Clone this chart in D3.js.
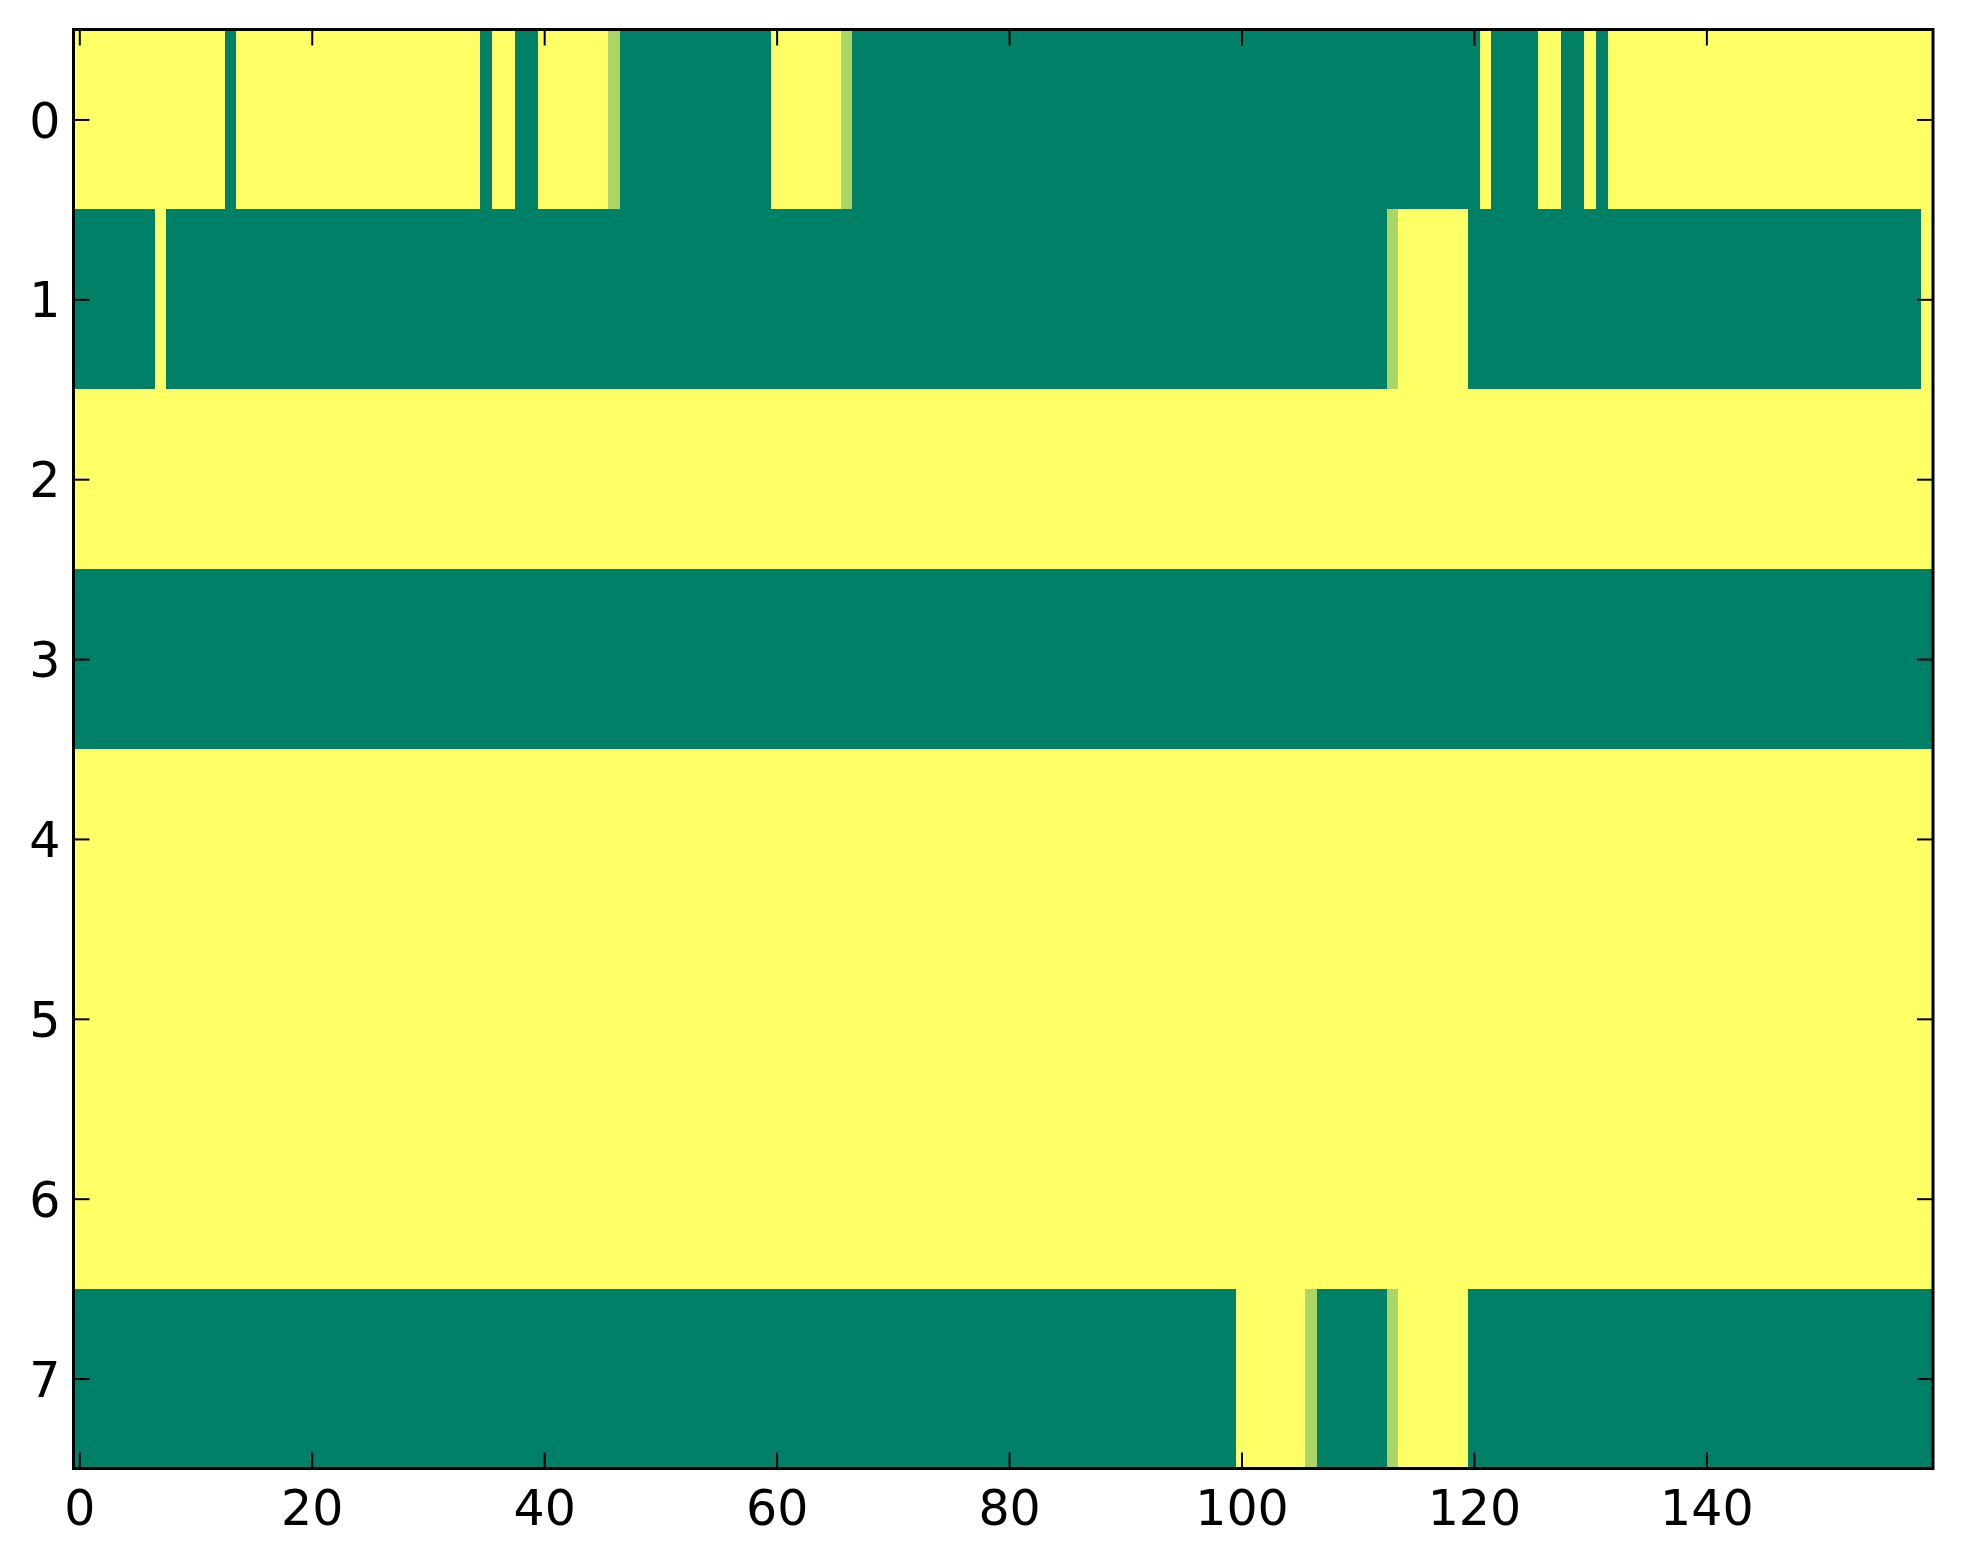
<!DOCTYPE html>
<html>
<head>
<meta charset="utf-8">
<script src="https://cdn.jsdelivr.net/npm/d3@7"></script>
<style>
  body { margin: 0; background: #fff; }
  svg { display: block; }
  .tick text { font-family: "DejaVu Sans", sans-serif; font-size: 49px; fill: #000; }
</style>
</head>
<body>
<svg></svg>
<script>
// Cell values (0 = dark green, 1 = yellow, 0.67 = light green)
const row0 = [
    1, 1, 1, 1, 1, 1, 1, 1, 1, 1, 1, 1, 1, 0, 1, 1, 1, 1, 1, 1,
    1, 1, 1, 1, 1, 1, 1, 1, 1, 1, 1, 1, 1, 1, 1, 0, 1, 1, 0, 0,
    1, 1, 1, 1, 1, 1, 0.67, 0, 0, 0, 0, 0, 0, 0, 0, 0, 0, 0, 0, 0,
    1, 1, 1, 1, 1, 1, 0.67, 0, 0, 0, 0, 0, 0, 0, 0, 0, 0, 0, 0, 0,
    0, 0, 0, 0, 0, 0, 0, 0, 0, 0, 0, 0, 0, 0, 0, 0, 0, 0, 0, 0,
    0, 0, 0, 0, 0, 0, 0, 0, 0, 0, 0, 0, 0, 0, 0, 0, 0, 0, 0, 0,
    0, 1, 0, 0, 0, 0, 1, 1, 0, 0, 1, 0, 1, 1, 1, 1, 1, 1, 1, 1,
    1, 1, 1, 1, 1, 1, 1, 1, 1, 1, 1, 1, 1, 1, 1, 1, 1, 1, 1, 1
];
const row1 = [
    0, 0, 0, 0, 0, 0, 0, 1, 0, 0, 0, 0, 0, 0, 0, 0, 0, 0, 0, 0,
    0, 0, 0, 0, 0, 0, 0, 0, 0, 0, 0, 0, 0, 0, 0, 0, 0, 0, 0, 0,
    0, 0, 0, 0, 0, 0, 0, 0, 0, 0, 0, 0, 0, 0, 0, 0, 0, 0, 0, 0,
    0, 0, 0, 0, 0, 0, 0, 0, 0, 0, 0, 0, 0, 0, 0, 0, 0, 0, 0, 0,
    0, 0, 0, 0, 0, 0, 0, 0, 0, 0, 0, 0, 0, 0, 0, 0, 0, 0, 0, 0,
    0, 0, 0, 0, 0, 0, 0, 0, 0, 0, 0, 0, 0, 0.67, 1, 1, 1, 1, 1, 1,
    0, 0, 0, 0, 0, 0, 0, 0, 0, 0, 0, 0, 0, 0, 0, 0, 0, 0, 0, 0,
    0, 0, 0, 0, 0, 0, 0, 0, 0, 0, 0, 0, 0, 0, 0, 0, 0, 0, 0, 1
];
const row2 = [
    1, 1, 1, 1, 1, 1, 1, 1, 1, 1, 1, 1, 1, 1, 1, 1, 1, 1, 1, 1,
    1, 1, 1, 1, 1, 1, 1, 1, 1, 1, 1, 1, 1, 1, 1, 1, 1, 1, 1, 1,
    1, 1, 1, 1, 1, 1, 1, 1, 1, 1, 1, 1, 1, 1, 1, 1, 1, 1, 1, 1,
    1, 1, 1, 1, 1, 1, 1, 1, 1, 1, 1, 1, 1, 1, 1, 1, 1, 1, 1, 1,
    1, 1, 1, 1, 1, 1, 1, 1, 1, 1, 1, 1, 1, 1, 1, 1, 1, 1, 1, 1,
    1, 1, 1, 1, 1, 1, 1, 1, 1, 1, 1, 1, 1, 1, 1, 1, 1, 1, 1, 1,
    1, 1, 1, 1, 1, 1, 1, 1, 1, 1, 1, 1, 1, 1, 1, 1, 1, 1, 1, 1,
    1, 1, 1, 1, 1, 1, 1, 1, 1, 1, 1, 1, 1, 1, 1, 1, 1, 1, 1, 1
];
const row3 = [
    0, 0, 0, 0, 0, 0, 0, 0, 0, 0, 0, 0, 0, 0, 0, 0, 0, 0, 0, 0,
    0, 0, 0, 0, 0, 0, 0, 0, 0, 0, 0, 0, 0, 0, 0, 0, 0, 0, 0, 0,
    0, 0, 0, 0, 0, 0, 0, 0, 0, 0, 0, 0, 0, 0, 0, 0, 0, 0, 0, 0,
    0, 0, 0, 0, 0, 0, 0, 0, 0, 0, 0, 0, 0, 0, 0, 0, 0, 0, 0, 0,
    0, 0, 0, 0, 0, 0, 0, 0, 0, 0, 0, 0, 0, 0, 0, 0, 0, 0, 0, 0,
    0, 0, 0, 0, 0, 0, 0, 0, 0, 0, 0, 0, 0, 0, 0, 0, 0, 0, 0, 0,
    0, 0, 0, 0, 0, 0, 0, 0, 0, 0, 0, 0, 0, 0, 0, 0, 0, 0, 0, 0,
    0, 0, 0, 0, 0, 0, 0, 0, 0, 0, 0, 0, 0, 0, 0, 0, 0, 0, 0, 0
];
const row4 = [
    1, 1, 1, 1, 1, 1, 1, 1, 1, 1, 1, 1, 1, 1, 1, 1, 1, 1, 1, 1,
    1, 1, 1, 1, 1, 1, 1, 1, 1, 1, 1, 1, 1, 1, 1, 1, 1, 1, 1, 1,
    1, 1, 1, 1, 1, 1, 1, 1, 1, 1, 1, 1, 1, 1, 1, 1, 1, 1, 1, 1,
    1, 1, 1, 1, 1, 1, 1, 1, 1, 1, 1, 1, 1, 1, 1, 1, 1, 1, 1, 1,
    1, 1, 1, 1, 1, 1, 1, 1, 1, 1, 1, 1, 1, 1, 1, 1, 1, 1, 1, 1,
    1, 1, 1, 1, 1, 1, 1, 1, 1, 1, 1, 1, 1, 1, 1, 1, 1, 1, 1, 1,
    1, 1, 1, 1, 1, 1, 1, 1, 1, 1, 1, 1, 1, 1, 1, 1, 1, 1, 1, 1,
    1, 1, 1, 1, 1, 1, 1, 1, 1, 1, 1, 1, 1, 1, 1, 1, 1, 1, 1, 1
];
const row5 = [
    1, 1, 1, 1, 1, 1, 1, 1, 1, 1, 1, 1, 1, 1, 1, 1, 1, 1, 1, 1,
    1, 1, 1, 1, 1, 1, 1, 1, 1, 1, 1, 1, 1, 1, 1, 1, 1, 1, 1, 1,
    1, 1, 1, 1, 1, 1, 1, 1, 1, 1, 1, 1, 1, 1, 1, 1, 1, 1, 1, 1,
    1, 1, 1, 1, 1, 1, 1, 1, 1, 1, 1, 1, 1, 1, 1, 1, 1, 1, 1, 1,
    1, 1, 1, 1, 1, 1, 1, 1, 1, 1, 1, 1, 1, 1, 1, 1, 1, 1, 1, 1,
    1, 1, 1, 1, 1, 1, 1, 1, 1, 1, 1, 1, 1, 1, 1, 1, 1, 1, 1, 1,
    1, 1, 1, 1, 1, 1, 1, 1, 1, 1, 1, 1, 1, 1, 1, 1, 1, 1, 1, 1,
    1, 1, 1, 1, 1, 1, 1, 1, 1, 1, 1, 1, 1, 1, 1, 1, 1, 1, 1, 1
];
const row6 = [
    1, 1, 1, 1, 1, 1, 1, 1, 1, 1, 1, 1, 1, 1, 1, 1, 1, 1, 1, 1,
    1, 1, 1, 1, 1, 1, 1, 1, 1, 1, 1, 1, 1, 1, 1, 1, 1, 1, 1, 1,
    1, 1, 1, 1, 1, 1, 1, 1, 1, 1, 1, 1, 1, 1, 1, 1, 1, 1, 1, 1,
    1, 1, 1, 1, 1, 1, 1, 1, 1, 1, 1, 1, 1, 1, 1, 1, 1, 1, 1, 1,
    1, 1, 1, 1, 1, 1, 1, 1, 1, 1, 1, 1, 1, 1, 1, 1, 1, 1, 1, 1,
    1, 1, 1, 1, 1, 1, 1, 1, 1, 1, 1, 1, 1, 1, 1, 1, 1, 1, 1, 1,
    1, 1, 1, 1, 1, 1, 1, 1, 1, 1, 1, 1, 1, 1, 1, 1, 1, 1, 1, 1,
    1, 1, 1, 1, 1, 1, 1, 1, 1, 1, 1, 1, 1, 1, 1, 1, 1, 1, 1, 1
];
const row7 = [
    0, 0, 0, 0, 0, 0, 0, 0, 0, 0, 0, 0, 0, 0, 0, 0, 0, 0, 0, 0,
    0, 0, 0, 0, 0, 0, 0, 0, 0, 0, 0, 0, 0, 0, 0, 0, 0, 0, 0, 0,
    0, 0, 0, 0, 0, 0, 0, 0, 0, 0, 0, 0, 0, 0, 0, 0, 0, 0, 0, 0,
    0, 0, 0, 0, 0, 0, 0, 0, 0, 0, 0, 0, 0, 0, 0, 0, 0, 0, 0, 0,
    0, 0, 0, 0, 0, 0, 0, 0, 0, 0, 0, 0, 0, 0, 0, 0, 0, 0, 0, 0,
    1, 1, 1, 1, 1, 1, 0.67, 0, 0, 0, 0, 0, 0, 0.67, 1, 1, 1, 1, 1, 1,
    0, 0, 0, 0, 0, 0, 0, 0, 0, 0, 0, 0, 0, 0, 0, 0, 0, 0, 0, 0,
    0, 0, 0, 0, 0, 0, 0, 0, 0, 0, 0, 0, 0, 0, 0, 0, 0, 0, 0, 0
];
const rows = [row0, row1, row2, row3, row4, row5, row6, row7];

// Tick labels
const xTicks = [0, 20, 40, 60, 80, 100, 120, 140];
const yTicks = [0, 1, 2, 3, 4, 5, 6, 7];

const width = 1963;
const height = 1564;
const plotLeft = 73.5, plotRight = 1933, plotTop = 29.5, plotBottom = 1468.5;
const tickLen = 16;

const svg = d3.select("svg")
    .attr("width", width)
    .attr("height", height);

const xScale = d3.scaleLinear()
    .domain([-0.5, rows[0].length - 0.5])
    .range([plotLeft, plotRight]);

const yScale = d3.scaleLinear()
    .domain([-0.5, rows.length - 0.5])
    .range([plotTop, plotBottom]);

// "summer" colormap: dark green -> yellow
const color = d3.scaleLinear()
    .domain([0, 1])
    .range(["#008066", "#ffff66"])
    .interpolate(d3.interpolateRgb);

// Flatten into cells
const cells = [];
rows.forEach((r, ri) => {
    r.forEach((v, ci) => cells.push({ row: ri, col: ci, value: v }));
});

svg.append("g")
    .selectAll("rect")
    .data(cells)
    .enter()
    .append("rect")
    .attr("x", (d) => xScale(d.col - 0.5))
    .attr("y", (d) => yScale(d.row - 0.5))
    .attr("width", (d) => xScale(d.col + 0.5) - xScale(d.col - 0.5) + 0.6)
    .attr("height", (d) => yScale(d.row + 0.5) - yScale(d.row - 0.5) + 0.6)
    .attr("fill", (d) => color(d.value))
    .attr("shape-rendering", "crispEdges");

// Axes with inward ticks on all four sides
const styleAxis = (g) => {
    g.select(".domain").remove();
    g.selectAll(".tick line").attr("stroke", "#000").attr("stroke-width", 2);
};

svg.append("g")
    .attr("transform", "translate(0," + plotBottom + ")")
    .call(d3.axisBottom(xScale).tickValues(xTicks).tickSizeInner(-tickLen).tickSizeOuter(0).tickPadding(22))
    .call(styleAxis);

svg.append("g")
    .attr("transform", "translate(0," + plotTop + ")")
    .call(d3.axisTop(xScale).tickValues(xTicks).tickSizeInner(-tickLen).tickSizeOuter(0).tickFormat(""))
    .call(styleAxis);

const yAxisGroup = svg.append("g")
    .attr("transform", "translate(" + plotLeft + ",0)")
    .call(d3.axisLeft(yScale).tickValues(yTicks).tickSizeInner(-tickLen).tickSizeOuter(0).tickPadding(13))
    .call(styleAxis);

yAxisGroup.selectAll(".tick text").attr("dy", "0.36em");

svg.append("g")
    .attr("transform", "translate(" + plotRight + ",0)")
    .call(d3.axisRight(yScale).tickValues(yTicks).tickSizeInner(-tickLen).tickSizeOuter(0).tickFormat(""))
    .call(styleAxis);

svg.selectAll("g").attr("font-family", null).attr("font-size", null);

// Frame
svg.append("rect")
    .attr("x", plotLeft)
    .attr("y", plotTop)
    .attr("width", plotRight - plotLeft)
    .attr("height", plotBottom - plotTop)
    .attr("fill", "none")
    .attr("stroke", "#000")
    .attr("stroke-width", 3);
</script>
</body>
</html>
